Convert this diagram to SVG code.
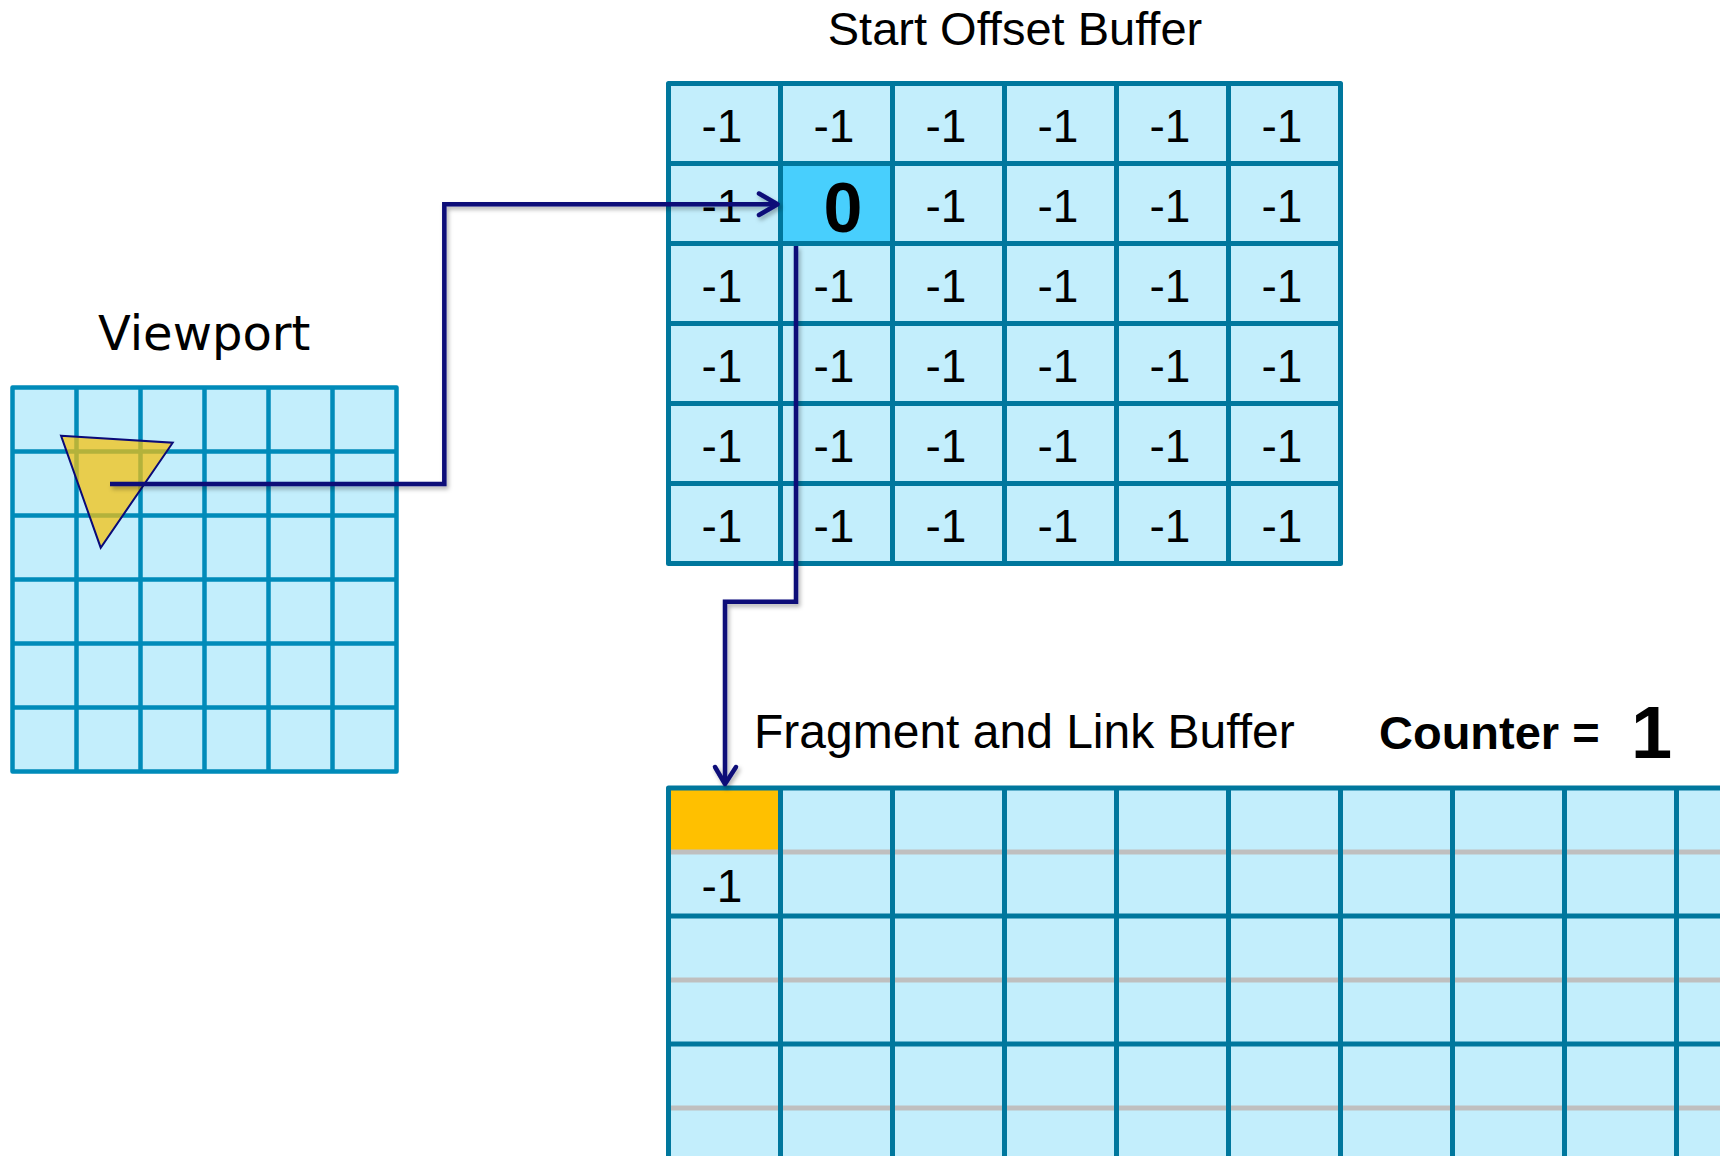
<svg xmlns="http://www.w3.org/2000/svg" width="1720" height="1156" viewBox="0 0 1720 1156">
  <style>
    .title { font-family: "Liberation Sans", Arial, sans-serif; font-size: 47px; fill: #000; }
    .title-lg { font-size: 48px; }
    .vp-title { font-family: "DejaVu Sans", Verdana, sans-serif; font-size: 48px; fill: #000; }
    .cell { font-family: "Liberation Sans", Arial, sans-serif; font-size: 46px; fill: #000; text-anchor: middle; }
    .bold { font-family: "Liberation Sans", Arial, sans-serif; font-weight: bold; fill: #000; }
    .grid-vp { fill: none; stroke: #008BB9; stroke-width: 4.5; stroke-linejoin: round; stroke-linecap: square; }
    .grid-buf { fill: none; stroke: #00779D; stroke-width: 5; stroke-linejoin: round; stroke-linecap: square; }
    .sub { fill: none; stroke: #BFBFBF; stroke-width: 5; }
    .bg { fill: #C3EEFC; }
    .link { fill: none; stroke: #0A0A78; stroke-width: 4.5; stroke-linejoin: miter; }
    .head { fill: none; stroke: #0A0A78; stroke-width: 4.5; stroke-linecap: round; stroke-linejoin: round; }
  </style>
  <defs>
    <filter id="shadow" x="-10%" y="-10%" width="120%" height="120%">
      <feDropShadow dx="2" dy="3" stdDeviation="2" flood-color="#000" flood-opacity="0.3"/>
    </filter>
  </defs>

  <rect width="1720" height="1156" fill="#fff"/>

  <!-- Viewport: 6x6 pixel grid with a rasterised triangle -->
  <g id="viewport">
    <text class="vp-title" x="98" y="350">Viewport</text>
    <rect class="bg" x="12.5" y="387.5" width="384" height="384"/>
    <path class="grid-vp" d="M12.5,387.5H396.5V771.5H12.5Z
      M76.5,387.5V771.5 M140.5,387.5V771.5 M204.5,387.5V771.5 M268.5,387.5V771.5 M332.5,387.5V771.5
      M12.5,451.5H396.5 M12.5,515.5H396.5 M12.5,579.5H396.5 M12.5,643.5H396.5 M12.5,707.5H396.5"/>
  </g>

  <g id="triangle">
    <polygon points="61,435.7 172.7,442.7 100.7,547.7" fill="#F6C00C" fill-opacity="0.73" stroke="#0A0A78" stroke-width="2" stroke-linejoin="miter"/>
  </g>

  <!-- Start offset buffer: 6x6 heads, all -1 except the written one -->
  <g id="start-offset-buffer">
    <text class="title" x="1015" y="45" text-anchor="middle">Start Offset Buffer</text>
    <rect class="bg" x="668.5" y="83.5" width="672" height="480"/>
    <rect x="780.5" y="163.5" width="112" height="80" fill="#48CFFD"/>
    <path class="grid-buf" d="M668.5,83.5H1340.5V563.5H668.5Z
      M780.5,83.5V563.5 M892.5,83.5V563.5 M1004.5,83.5V563.5 M1116.5,83.5V563.5 M1228.5,83.5V563.5
      M668.5,163.5H1340.5 M668.5,243.5H1340.5 M668.5,323.5H1340.5 M668.5,403.5H1340.5 M668.5,483.5H1340.5"/>
    <g>
      <text class="cell" x="722" y="141.5">-1</text><text class="cell" x="834" y="141.5">-1</text><text class="cell" x="946" y="141.5">-1</text><text class="cell" x="1058" y="141.5">-1</text><text class="cell" x="1170" y="141.5">-1</text><text class="cell" x="1282" y="141.5">-1</text>
      <text class="cell" x="722" y="221.5">-1</text><text class="bold" x="843" y="232" font-size="70" text-anchor="middle">0</text><text class="cell" x="946" y="221.5">-1</text><text class="cell" x="1058" y="221.5">-1</text><text class="cell" x="1170" y="221.5">-1</text><text class="cell" x="1282" y="221.5">-1</text>
      <text class="cell" x="722" y="301.5">-1</text><text class="cell" x="834" y="301.5">-1</text><text class="cell" x="946" y="301.5">-1</text><text class="cell" x="1058" y="301.5">-1</text><text class="cell" x="1170" y="301.5">-1</text><text class="cell" x="1282" y="301.5">-1</text>
      <text class="cell" x="722" y="381.5">-1</text><text class="cell" x="834" y="381.5">-1</text><text class="cell" x="946" y="381.5">-1</text><text class="cell" x="1058" y="381.5">-1</text><text class="cell" x="1170" y="381.5">-1</text><text class="cell" x="1282" y="381.5">-1</text>
      <text class="cell" x="722" y="461.5">-1</text><text class="cell" x="834" y="461.5">-1</text><text class="cell" x="946" y="461.5">-1</text><text class="cell" x="1058" y="461.5">-1</text><text class="cell" x="1170" y="461.5">-1</text><text class="cell" x="1282" y="461.5">-1</text>
      <text class="cell" x="722" y="541.5">-1</text><text class="cell" x="834" y="541.5">-1</text><text class="cell" x="946" y="541.5">-1</text><text class="cell" x="1058" y="541.5">-1</text><text class="cell" x="1170" y="541.5">-1</text><text class="cell" x="1282" y="541.5">-1</text>
    </g>
  </g>

  <!-- Fragment and link buffer: each slot holds a fragment (top) and a next link (bottom) -->
  <g id="fragment-link-buffer">
    <text class="title title-lg" x="754" y="748">Fragment and Link Buffer</text>
    <rect class="bg" x="668.5" y="788" width="1060" height="380"/>
    <rect x="668.5" y="788" width="112" height="64" fill="#FFC000"/>
    <path class="sub" d="M668.5,852H1720 M668.5,980H1720 M668.5,1108H1720"/>
    <path class="grid-buf" d="M1725,788H668.5V1170
      M780.5,788V1170 M892.5,788V1170 M1004.5,788V1170 M1116.5,788V1170 M1228.5,788V1170 M1340.5,788V1170 M1452.5,788V1170 M1564.5,788V1170 M1676.5,788V1170
      M668.5,916H1725 M668.5,1044H1725"/>
    <text class="cell" x="722" y="902">-1</text>
  </g>

  <g id="counter">
    <text class="bold" x="1379" y="749" font-size="47">Counter =</text>
    <text class="bold" x="1631" y="758" font-size="74">1</text>
  </g>

  <!-- Connectors: pixel -> head slot, head slot -> fragment slot -->
  <g id="connectors" filter="url(#shadow)">
    <path class="link" d="M110,484H444.3V204.3H776"/>
    <path class="head" d="M759,193.5L777.5,204.3L759,215"/>
    <path class="link" d="M796,246V601.7H725V782"/>
    <path class="head" d="M715,767L725,784L736,767"/>
  </g>
</svg>
